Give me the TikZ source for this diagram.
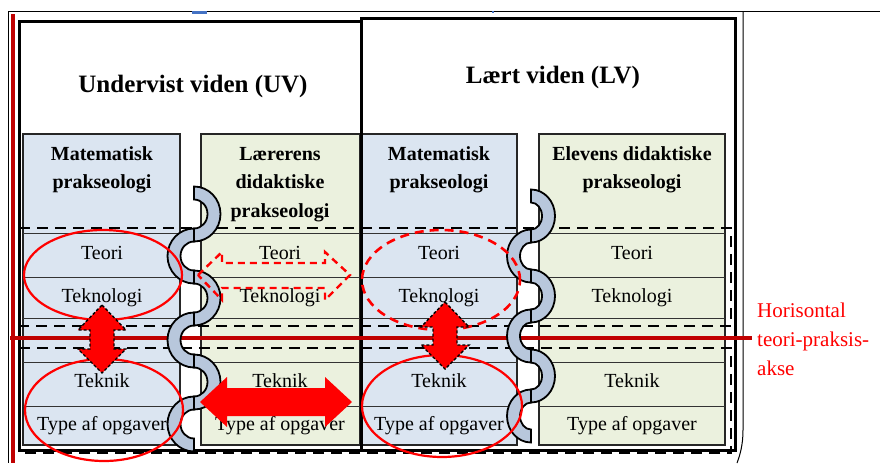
\documentclass[tikz,border=0pt]{standalone}
\usepackage{fontspec}
\setmainfont{Liberation Serif}
\definecolor{mpblue}{RGB}{219,229,241}
\definecolor{dpgreen}{RGB}{235,241,222}
\definecolor{axisred}{RGB}{192,0,0}
\definecolor{ribbonfill}{RGB}{184,199,220}
\definecolor{markblue}{RGB}{68,114,196}
% wavy band: #1 centre x, #2 top y, #3 horizontal radius, #4 vertical radius
\newcommand\waveband[4]{%
  \foreach \k in {0,...,5}{%
    \pgfmathsetmacro\wvcy{#2+#4*(2*\k+1)}%
    \pgfmathsetmacro\wvend{mod(\k,2)==0 ? -90 : 270}%
    \filldraw[ribbonpart] (#1,\wvcy-#4-6.5)
      arc[start angle=90,end angle=\wvend,x radius=#3pt+6.5pt,y radius=#4pt+6.5pt]
      -- (#1,\wvcy+#4-6.5)
      arc[start angle=\wvend,end angle=90,x radius=#3pt-6.5pt,y radius=#4pt-6.5pt]
      -- cycle;
  }}
\begin{document}
\begin{tikzpicture}[x=1pt,y=-1pt,
  colframe/.style={draw=black!85,line width=1.1pt},
  rowline/.style={draw=black!80,line width=0.9pt},
  bigframe/.style={draw=black,line width=3pt},
  thinframe/.style={draw=black,line width=1pt},
  blockdash/.style={draw=black,line width=2.6pt,dash pattern=on 11pt off 7pt},
  axisline/.style={draw=axisred,line width=4pt},
  ribbonpart/.style={fill=ribbonfill,draw=black,line width=1.8pt},
  ring/.style={draw=red,line width=2.2pt},
  ringdash/.style={ring,line width=2.6pt,dash pattern=on 9pt off 6pt},
  boldarrow/.style={fill=red,draw=black,line width=1.4pt,dash pattern=on 3pt off 2pt},
  solidarrow/.style={fill=red},
  hollowarrow/.style={draw=red,line width=2.4pt,dash pattern=on 7pt off 5pt},
  celltext/.style={font=\fontsize{20}{24}\selectfont,anchor=base,inner sep=0pt},
  headtext/.style={font=\bfseries\fontsize{20}{24}\selectfont,anchor=base,inner sep=0pt},
  titletext/.style={font=\bfseries\fontsize{25}{30}\selectfont,anchor=base,inner sep=0pt},
  axislabel/.style={font=\fontsize{21}{25}\selectfont,text=red,anchor=base west,inner sep=0pt}
]
\useasboundingbox (0,0) rectangle (880,463);
\fill[white] (0,0) rectangle (880,463);

% outer page lines
\draw[thinframe] (880,11) -- (8,11) -- (8,463);
\draw[thinframe] (743,11) -- (743,430) .. controls (743,445) and (740,455) .. (737,463);
\fill[markblue] (192,11) rectangle (207,14);
\fill[markblue] (492,11) rectangle (494,13);
\draw[axisred,line width=4pt] (12.5,14) -- (12.5,463);

% column fills
\foreach \l/\r/\c in {23/180/mpblue,201/360/dpgreen,361/517/mpblue,539/725/dpgreen}{
  \fill[\c] (\l,134) rectangle (\r,445);
}
% column outlines and row lines
\foreach \l/\r in {23/180,201/360,361/517,539/725}{
  \draw[colframe] (\l,134) rectangle (\r,445);
  \foreach \y in {233,277,318,362,406}{
    \draw[rowline] (\l,\y) -- (\r,\y);
  }
}

% UV and LV frames
\draw[bigframe] (19,21) rectangle (361,450);
\draw[bigframe] (361,18) rectangle (735,450);

% theory and practice blocks
\draw[blockdash] (19,228) -- (731,228) -- (731,326) -- (19,326);
\draw[blockdash] (19,348) -- (731,348) -- (731,453) -- (19,453);

% horizontal theory-practice axis
\coordinate (axisL) at (10,338);
\coordinate (axisR) at (752,338);
\draw[axisline] (axisL) -- (axisR);

% wavy bands between the praxeologies
\waveband{194}{193}{20}{21}
\waveband{531}{196}{17.5}{20}

% titles
\node[titletext] (uv) at (193,92) {Undervist viden (UV)};
\node[titletext] (lv) at (553,83) {Lært viden (LV)};

% column headers
\node[headtext] (h1a) at (102,160) {Matematisk};
\node[headtext] (h1b) at (102,188) {prakseologi};
\node[headtext] (h2a) at (280,160) {Lærerens};
\node[headtext] (h2b) at (280,188) {didaktiske};
\node[headtext] (h2c) at (280,217) {prakseologi};
\node[headtext] (h3a) at (439,160) {Matematisk};
\node[headtext] (h3b) at (439,188) {prakseologi};
\node[headtext] (h4a) at (632,160) {Elevens didaktiske};
\node[headtext] (h4b) at (632,188) {prakseologi};

% cell texts
\foreach \cx/\nm in {102/a,280/b,439/c,632/d}{
  \node[celltext] (teori-\nm) at (\cx,259) {Teori};
  \node[celltext] (tekno-\nm) at (\cx,302) {Teknologi};
  \node[celltext] (teknik-\nm) at (\cx,387) {Teknik};
  \node[celltext] (type-\nm) at (\cx,430) {Type af opgaver};
}

% axis label
\node[axislabel] (lbl1) at (757,317) {Horisontal};
\node[axislabel] (lbl2) at (757,346) {teori-praksis-};
\node[axislabel] (lbl3) at (757,375) {akse};

% ellipses
\draw[ring] (103,275) ellipse[x radius=79pt,y radius=45pt];
\draw[ring] (104,410) ellipse[x radius=79pt,y radius=51pt];
\draw[ringdash] (441,280) ellipse[x radius=79pt,y radius=50pt];
\draw[ring] (442,406) ellipse[x radius=80pt,y radius=51pt];

% vertical double arrows
\filldraw[boldarrow] (102,305) -- (126,330) -- (114,330) -- (114,349) -- (126,349)
  -- (102,373) -- (78,349) -- (90,349) -- (90,330) -- (78,330) -- cycle;
\filldraw[boldarrow] (445,302) -- (469,327) -- (457,327) -- (457,345) -- (469,345)
  -- (445,369) -- (421,345) -- (433,345) -- (433,327) -- (421,327) -- cycle;

% horizontal double arrows
\fill[solidarrow] (200,402) -- (227,377) -- (227,388) -- (325,388) -- (325,377)
  -- (352,402) -- (325,427) -- (325,416) -- (227,416) -- (227,427) -- cycle;
\draw[hollowarrow] (198,275) -- (222,252) -- (222,263) -- (325,263) -- (325,252)
  -- (350,275) -- (325,300) -- (325,288) -- (222,288) -- (222,300) -- cycle;
\end{tikzpicture}
\end{document}
